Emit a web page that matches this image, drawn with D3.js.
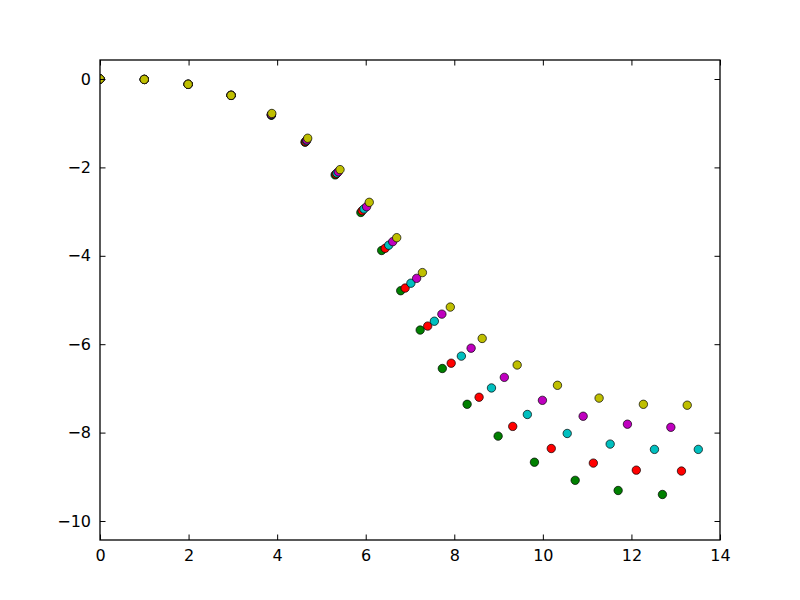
<!DOCTYPE html>
<html><head><meta charset="utf-8">
<script src="https://cdn.jsdelivr.net/npm/d3@7"></script>
<style>body{margin:0;background:#fff}svg{display:block}text{font-family:"DejaVu Sans",sans-serif}</style>
</head><body>
<script>
const seriesNames = ["g","r","c","m","y"];
const seriesColors = ["#008000","#ff0000","#00bfbf","#bf00bf","#bfbf00"];
const greenX = [0,1.0,1.99,2.96,3.87,4.63,5.31,5.89,6.36,6.79,7.23,7.73,8.29,8.99,9.81,10.73,11.70,12.70];
const greenY = [0,-0.01,-0.12,-0.37,-0.82,-1.43,-2.17,-3.02,-3.88,-4.79,-5.68,-6.55,-7.36,-8.08,-8.67,-9.08,-9.31,-9.40];
const redX = [0,1.0,1.99,2.96,3.87,4.64,5.33,5.92,6.44,6.89,7.40,7.93,8.56,9.32,10.19,11.14,12.11,13.13];
const redY = [0,-0.01,-0.12,-0.37,-0.81,-1.42,-2.15,-2.98,-3.83,-4.73,-5.59,-6.43,-7.20,-7.86,-8.36,-8.69,-8.85,-8.87];
const cyanX = [0,1.0,1.99,2.96,3.87,4.66,5.35,5.96,6.52,7.02,7.55,8.16,8.84,9.65,10.55,11.52,12.52,13.51];
const cyanY = [0,-0.01,-0.12,-0.37,-0.81,-1.40,-2.13,-2.94,-3.76,-4.62,-5.48,-6.27,-6.99,-7.59,-8.02,-8.26,-8.38,-8.38];
const magentaX = [0,1.0,1.99,2.96,3.87,4.67,5.38,6.02,6.61,7.15,7.72,8.38,9.13,9.99,10.91,11.91,12.89];
const magentaY = [0,-0.01,-0.12,-0.37,-0.80,-1.38,-2.10,-2.89,-3.68,-4.51,-5.32,-6.09,-6.75,-7.27,-7.63,-7.81,-7.88];
const yellowX = [0,1.0,1.99,2.96,3.88,4.69,5.42,6.08,6.70,7.28,7.91,8.63,9.42,10.33,11.27,12.27,13.26];
const yellowY = [0,-0.01,-0.12,-0.37,-0.78,-1.34,-2.05,-2.79,-3.59,-4.38,-5.16,-5.87,-6.47,-6.93,-7.22,-7.36,-7.38];
const xTicks = [0,2,4,6,8,10,12,14];
const yTicks = [0,-2,-4,-6,-8,-10];

const allX = [greenX, redX, cyanX, magentaX, yellowX];
const allY = [greenY, redY, cyanY, magentaY, yellowY];

const W = 800, H = 600;
const L = 100, R = 720, T = 60, B = 540;
const svg = d3.select("body").append("svg").attr("width", W).attr("height", H);
const x = d3.scaleLinear().domain([0, 14]).range([L, R]);
const y = d3.scaleLinear().domain([-10.43, 0.43]).range([B, T]);

svg.append("defs").append("clipPath").attr("id","clip")
  .append("rect").attr("x",L).attr("y",T).attr("width",R-L).attr("height",B-T);

const plot = svg.append("g").attr("clip-path","url(#clip)");
allX.forEach((xs, i) => {
  const pts = xs.map((v, j) => [v, allY[i][j]]);
  plot.append("g").selectAll("circle").data(pts).enter().append("circle")
    .attr("cx", d => x(d[0])).attr("cy", d => y(d[1])).attr("r", 4.2)
    .attr("fill", seriesColors[i]).attr("stroke", "#000").attr("stroke-width", 0.7);
});

const fmt = d => d < 0 ? "\u2212" + Math.abs(d) : String(d);
const tl = 5.5;
// bottom axis
const bx = svg.append("g").attr("transform", `translate(0,${B})`)
  .call(d3.axisBottom(x).tickValues(xTicks).tickFormat(fmt).tickSizeInner(-tl).tickSizeOuter(0).tickPadding(10));
// top ticks
const tx = svg.append("g").attr("transform", `translate(0,${T})`)
  .call(d3.axisTop(x).tickValues(xTicks).tickFormat("").tickSizeInner(-tl).tickSizeOuter(0));
// left axis
const ly = svg.append("g").attr("transform", `translate(${L},0)`)
  .call(d3.axisLeft(y).tickValues(yTicks).tickFormat(fmt).tickSizeInner(-tl).tickSizeOuter(0).tickPadding(9));
// right ticks
const ry = svg.append("g").attr("transform", `translate(${R},0)`)
  .call(d3.axisRight(y).tickValues(yTicks).tickFormat("").tickSizeInner(-tl).tickSizeOuter(0));

[bx, tx, ly, ry].forEach(g => {
  g.select(".domain").remove();
  g.selectAll("line").attr("stroke", "#000").attr("stroke-width", 1);
  g.selectAll("text").attr("fill", "#000").style("font-size", "16px").style("font-family", "DejaVu Sans");
});

svg.append("rect").attr("x", L).attr("y", T).attr("width", R - L).attr("height", B - T)
  .attr("fill", "none").attr("stroke", "#000").attr("stroke-width", 1.3);
</script>
</body></html>
